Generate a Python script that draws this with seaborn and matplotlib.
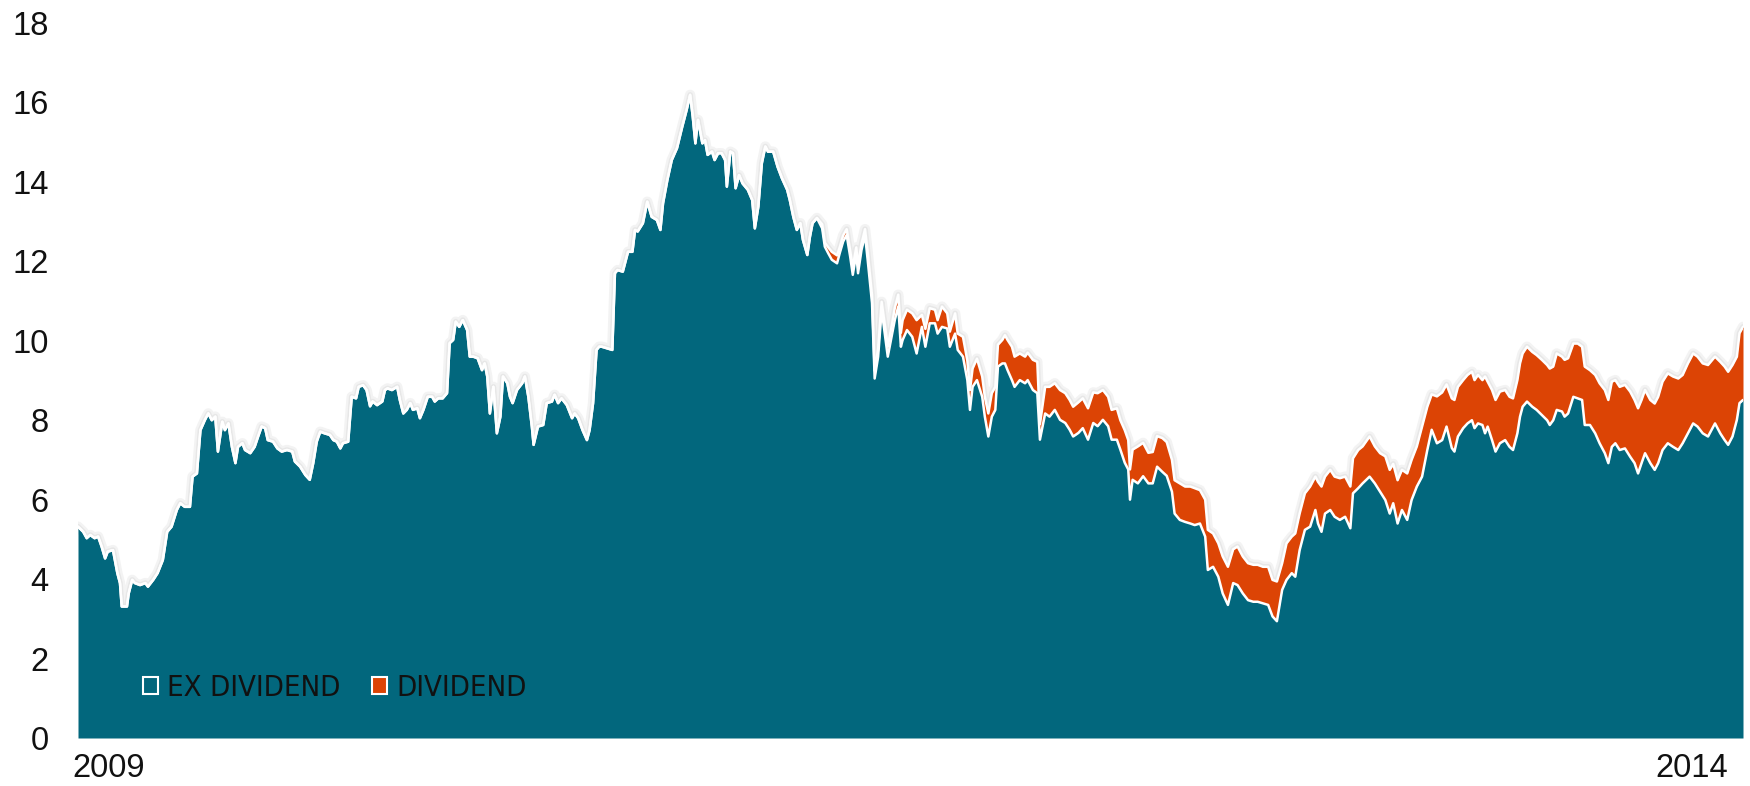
import numpy as np
import pandas as pd
import matplotlib
matplotlib.use("Agg")
import matplotlib.pyplot as plt
import matplotlib.transforms as mtransforms
from matplotlib import font_manager as fm
from matplotlib.patches import Patch
import seaborn as sns

# Share price, split into the ex-dividend price and the price including dividends paid.
START = "2008-12-05"

day_offset = [
    0, 6, 10, 14, 19, 23, 27, 31, 34, 40, 45, 48, 50, 56, 58, 62, 65, 71, 77, 80,
    86, 91, 97, 102, 107, 113, 117, 122, 128, 131, 136, 140, 145, 149, 153, 157, 160, 165, 168, 172,
    176, 180, 183, 188, 191, 197, 202, 206, 210, 214, 217, 223, 228, 233, 239, 245, 248, 254, 260, 265,
    269, 273, 277, 282, 288, 292, 296, 300, 303, 309, 313, 318, 321, 326, 330, 334,
    337, 342, 348, 351, 354, 359, 365, 368, 372, 376, 380, 383, 388, 391, 395, 400, 405, 408, 412, 417,
    422, 425, 429, 432, 436, 440, 445, 448, 452, 457, 462, 465, 468, 471, 475, 479, 483, 486, 491, 494,
    497, 502, 508, 511, 515, 519, 521, 526, 532, 536, 542, 545, 549, 553, 559, 565, 568, 572, 577, 582,
    585, 589, 593, 596,
    599, 605, 611, 614, 617, 623, 629, 634, 637, 640, 646, 651, 656, 662, 666, 669, 674, 679, 685, 691,
    696, 700, 703, 706, 709, 714, 717, 720, 725, 728, 732, 736, 740, 742, 746, 749, 752, 756, 760, 766,
    771, 774, 778, 782, 786, 789, 795, 800, 805, 811, 814, 818, 822, 826, 829, 834, 837, 840, 845,
    851, 854, 858, 862, 868, 871, 875, 879, 883, 886, 890, 892, 896, 900, 903, 908, 911, 915, 919, 923,
    926, 931, 934, 938, 941,
    943, 948, 954, 959, 965, 969, 974, 980, 983, 988, 994, 997, 1003, 1006, 1012, 1017, 1020, 1023, 1028, 1034,
    1037, 1041, 1045, 1049, 1052, 1057, 1060, 1063, 1068, 1071, 1077, 1083, 1086, 1092, 1097, 1100, 1106, 1111, 1117, 1123,
    1129, 1134, 1138, 1144, 1149, 1155, 1161, 1166, 1172, 1178, 1182, 1188, 1192, 1197, 1201, 1203, 1206, 1212, 1218, 1224,
    1229, 1234, 1240, 1245,
    1251, 1254, 1260, 1266, 1272, 1277, 1283, 1289, 1292, 1298, 1304, 1309, 1315, 1321, 1326, 1332, 1338, 1344, 1349, 1355,
    1361, 1366, 1371, 1377, 1382, 1388, 1392, 1397, 1403, 1409, 1415, 1418, 1422, 1426, 1432, 1437, 1443, 1449, 1455, 1458,
    1464, 1469, 1477, 1483, 1489, 1495, 1500, 1504, 1509, 1514, 1520, 1525, 1531, 1537, 1543, 1548, 1554, 1560, 1565, 1571,
    1574, 1578, 1584, 1589, 1594, 1597, 1601, 1606, 1609, 1612, 1617, 1621, 1626, 1632, 1637, 1641, 1646, 1649, 1652, 1657,
    1663, 1668, 1674, 1680, 1683, 1687, 1691, 1697, 1700, 1704, 1710, 1715, 1720, 1723, 1729, 1735, 1740, 1746, 1750, 1754,
    1758, 1763, 1769, 1775, 1780, 1784, 1788, 1792, 1798, 1803, 1807, 1812, 1818, 1824, 1830, 1835, 1841, 1847, 1852, 1858,
    1864, 1872, 1878, 1883, 1887, 1892, 1897, 1900, 1904,
]

ex_dividend = [
    5.32, 5.19, 5.03, 5.11, 5.03, 5.07, 4.82, 4.52, 4.69, 4.73, 4.15, 3.90, 3.31, 3.31, 3.64, 3.98, 3.90, 3.85, 3.90, 3.81,
    3.98, 4.15, 4.48, 5.19, 5.32, 5.74, 5.91, 5.82, 5.82, 6.58, 6.66, 7.75, 8.00, 8.17, 8.00, 8.09, 7.21, 7.96, 7.75, 7.92,
    7.33, 6.92, 7.33, 7.42, 7.25, 7.17, 7.33, 7.59, 7.84, 7.80, 7.50, 7.46, 7.29, 7.21, 7.25, 7.21, 6.96, 6.83, 6.62, 6.50,
    6.92, 7.46, 7.71, 7.67, 7.63, 7.50, 7.46, 7.29, 7.42, 7.46, 8.59, 8.55, 8.84, 8.88, 8.76, 8.35,
    8.47, 8.38, 8.47, 8.76, 8.80, 8.76, 8.84, 8.51, 8.17, 8.26, 8.43, 8.26, 8.30, 8.05, 8.26, 8.59, 8.59, 8.47, 8.55, 8.55,
    8.68, 9.94, 10.02, 10.48, 10.35, 10.52, 10.27, 9.60, 9.60, 9.56, 9.26, 9.43, 9.10, 8.17, 8.84, 7.67, 8.09, 9.10, 8.93, 8.59,
    8.43, 8.76, 8.93, 9.10, 8.59, 7.84, 7.38, 7.84, 7.88, 8.43, 8.47, 8.64, 8.43, 8.55, 8.38, 8.05, 8.17, 8.05, 7.75, 7.50,
    7.75, 8.43, 9.77, 9.85,
    9.85, 9.81, 9.77, 11.70, 11.78, 11.74, 12.24, 12.24, 12.79, 12.75, 12.96, 13.50, 13.12, 13.04, 12.79, 13.46, 14.05, 14.55, 14.85, 15.39,
    15.81, 16.19, 15.64, 14.97, 15.56, 14.97, 15.05, 14.68, 14.76, 14.55, 14.72, 14.72, 14.55, 13.88, 14.76, 14.72, 13.84, 14.17, 13.96, 13.80,
    13.54, 12.83, 13.38, 14.47, 14.89, 14.76, 14.76, 14.38, 14.09, 13.80, 13.54, 13.12, 12.79, 12.96, 12.54, 12.16, 12.62, 12.96, 13.09,
    12.83, 12.37, 12.20, 12.04, 11.95, 12.20, 12.50, 12.66, 12.12, 11.66, 12.20, 11.70, 12.29, 12.66, 12.04, 10.95, 9.05, 9.60, 10.78, 10.10,
    9.60, 10.18, 10.52, 10.86, 9.85,
    10.02, 10.27, 10.10, 9.68, 10.35, 9.85, 10.44, 10.44, 10.18, 10.35, 10.31, 9.85, 10.18, 9.77, 9.60, 9.01, 8.26, 8.84, 9.01, 8.59,
    8.09, 7.59, 8.09, 8.26, 9.35, 9.43, 9.43, 9.26, 9.01, 8.84, 9.01, 8.93, 9.01, 8.76, 8.68, 7.51, 8.17, 8.09, 8.26, 8.01,
    7.93, 7.76, 7.59, 7.68, 7.80, 7.51, 7.93, 7.85, 8.01, 7.85, 7.51, 7.51, 7.26, 6.93, 6.76, 6.00, 6.50, 6.41, 6.59, 6.41,
    6.41, 6.83, 6.70, 6.60,
    6.20, 5.65, 5.49, 5.44, 5.40, 5.36, 5.40, 5.07, 4.23, 4.31, 4.06, 3.64, 3.35, 3.90, 3.85, 3.64, 3.47, 3.43, 3.43, 3.39,
    3.35, 3.06, 2.94, 3.73, 3.98, 4.15, 4.06, 4.73, 5.24, 5.32, 5.74, 5.40, 5.19, 5.65, 5.74, 5.57, 5.49, 5.57, 5.28, 6.16,
    6.29, 6.41, 6.58, 6.41, 6.20, 5.99, 5.65, 5.91, 5.40, 5.74, 5.49, 5.99, 6.33, 6.58, 7.25, 7.76, 7.42, 7.50, 7.84, 7.30,
    7.21, 7.59, 7.80, 7.92, 8.00, 7.80, 7.92, 7.88, 7.67, 7.84, 7.50, 7.21, 7.42, 7.50, 7.33, 7.25, 7.67, 8.09, 8.34, 8.47,
    8.34, 8.26, 8.13, 8.00, 7.88, 8.00, 8.26, 8.22, 8.09, 8.17, 8.59, 8.55, 8.51, 7.88, 7.88, 7.67, 7.42, 7.17, 6.92, 7.33,
    7.42, 7.25, 7.29, 7.08, 6.92, 6.66, 6.92, 7.17, 6.92, 6.75, 6.92, 7.25, 7.42, 7.33, 7.25, 7.42, 7.67, 7.92, 7.84, 7.67,
    7.59, 7.92, 7.67, 7.50, 7.38, 7.59, 8.01, 8.43, 8.51,
]

with_dividend = [
    5.32, 5.19, 5.03, 5.11, 5.03, 5.07, 4.82, 4.52, 4.69, 4.73, 4.15, 3.90, 3.31, 3.31, 3.64, 3.98, 3.90, 3.85, 3.90, 3.81,
    3.98, 4.15, 4.48, 5.19, 5.32, 5.74, 5.91, 5.82, 5.82, 6.58, 6.66, 7.75, 8.00, 8.17, 8.00, 8.09, 7.21, 7.96, 7.75, 7.92,
    7.33, 6.92, 7.33, 7.42, 7.25, 7.17, 7.33, 7.59, 7.84, 7.80, 7.50, 7.46, 7.29, 7.21, 7.25, 7.21, 6.96, 6.83, 6.62, 6.50,
    6.92, 7.46, 7.71, 7.67, 7.63, 7.50, 7.46, 7.29, 7.42, 7.46, 8.59, 8.55, 8.84, 8.88, 8.76, 8.35,
    8.47, 8.38, 8.47, 8.76, 8.80, 8.76, 8.84, 8.51, 8.17, 8.26, 8.43, 8.26, 8.30, 8.05, 8.26, 8.59, 8.59, 8.47, 8.55, 8.55,
    8.68, 9.94, 10.02, 10.48, 10.35, 10.52, 10.27, 9.60, 9.60, 9.56, 9.26, 9.43, 9.10, 8.17, 8.84, 7.67, 8.09, 9.10, 8.93, 8.59,
    8.43, 8.76, 8.93, 9.10, 8.59, 7.84, 7.38, 7.84, 7.88, 8.43, 8.47, 8.64, 8.43, 8.55, 8.38, 8.05, 8.17, 8.05, 7.75, 7.50,
    7.75, 8.43, 9.77, 9.85,
    9.85, 9.81, 9.77, 11.70, 11.78, 11.74, 12.24, 12.24, 12.79, 12.75, 12.96, 13.50, 13.12, 13.04, 12.79, 13.46, 14.05, 14.55, 14.85, 15.39,
    15.81, 16.19, 15.64, 14.97, 15.56, 14.97, 15.05, 14.68, 14.76, 14.55, 14.72, 14.72, 14.55, 13.88, 14.76, 14.72, 13.84, 14.17, 13.96, 13.80,
    13.54, 12.83, 13.38, 14.47, 14.89, 14.76, 14.76, 14.38, 14.09, 13.80, 13.54, 13.12, 12.79, 12.96, 12.54, 12.16, 12.62, 12.96, 13.09,
    12.93, 12.47, 12.35, 12.24, 12.15, 12.35, 12.65, 12.81, 12.27, 11.86, 12.35, 11.90, 12.44, 12.81, 12.24, 11.15, 9.25, 9.80, 10.98, 10.35,
    9.85, 10.43, 10.82, 11.16, 10.20,
    10.52, 10.78, 10.69, 10.52, 10.65, 10.30, 10.82, 10.78, 10.52, 10.86, 10.69, 10.23, 10.69, 10.18, 10.10, 9.50, 8.76, 9.30, 9.55, 9.10,
    8.59, 8.17, 8.68, 8.84, 9.90, 10.02, 10.14, 10.02, 9.85, 9.60, 9.68, 9.60, 9.70, 9.52, 9.47, 7.90, 8.84, 8.84, 8.93, 8.76,
    8.68, 8.51, 8.34, 8.45, 8.55, 8.30, 8.70, 8.68, 8.76, 8.59, 8.26, 8.30, 8.00, 7.75, 7.50, 6.76, 7.26, 7.34, 7.43, 7.18,
    7.20, 7.60, 7.55, 7.45,
    7.00, 6.49, 6.41, 6.33, 6.33, 6.29, 6.24, 6.00, 5.24, 5.15, 4.90, 4.57, 4.31, 4.75, 4.82, 4.57, 4.40, 4.36, 4.36, 4.31,
    4.31, 3.98, 3.94, 4.40, 4.90, 5.07, 5.15, 5.65, 6.16, 6.33, 6.58, 6.45, 6.33, 6.58, 6.75, 6.58, 6.54, 6.58, 6.33, 7.04,
    7.25, 7.34, 7.59, 7.34, 7.17, 7.09, 6.75, 6.90, 6.49, 6.75, 6.66, 7.00, 7.34, 7.84, 8.34, 8.65, 8.60, 8.70, 8.90, 8.55,
    8.51, 8.84, 9.01, 9.14, 9.22, 9.01, 9.14, 9.01, 9.10, 8.97, 8.76, 8.51, 8.72, 8.76, 8.59, 8.55, 9.01, 9.43, 9.68, 9.85,
    9.72, 9.64, 9.52, 9.39, 9.30, 9.35, 9.68, 9.60, 9.52, 9.56, 9.93, 9.93, 9.85, 9.35, 9.26, 9.14, 8.93, 8.76, 8.51, 8.97,
    9.01, 8.84, 8.89, 8.72, 8.51, 8.30, 8.51, 8.76, 8.51, 8.42, 8.59, 8.97, 9.18, 9.10, 9.05, 9.14, 9.43, 9.68, 9.60, 9.43,
    9.39, 9.60, 9.47, 9.35, 9.22, 9.39, 9.60, 10.19, 10.35,
]

series_labels = ["EX DIVIDEND", "DIVIDEND"]
year_ticks = ["2009-01-01", "2014-01-01"]
y_ticks = list(range(0, 19, 2))

TEAL = "#02677d"
ORANGE = "#dc4405"

df = pd.DataFrame({
    "date": pd.Timestamp(START) + pd.to_timedelta(day_offset, unit="D"),
    "ex_dividend": ex_dividend,
    "with_dividend": with_dividend,
})

sns.set_theme(style="white")
plt.rcParams["font.family"] = ["Liberation Sans", "DejaVu Sans"]

# a narrow face for the legend if one is installed
installed = fm.fontManager.ttflist
if any(f.name == "Liberation Sans Narrow" for f in installed):
    legend_prop = {"family": "Liberation Sans Narrow", "size": 23}
elif any(f.name == "DejaVu Sans" and f.stretch == "condensed" for f in installed):
    legend_prop = {"family": "DejaVu Sans", "stretch": "condensed", "size": 21}
else:
    legend_prop = {"family": "Liberation Sans", "size": 19.5}

fig = plt.figure(figsize=(17.5, 7.86), dpi=100)
ax = fig.add_axes([78 / 1750, 48 / 786, 1665 / 1750, 715 / 786])

# soft grey glow behind the upper edge of the stack
ax.plot(df["date"], df["with_dividend"], color="#f3f3f3", lw=7.5, zorder=1,
        solid_joinstyle="round", solid_capstyle="round")
ax.plot(df["date"], df["with_dividend"], color="#e7e7e7", lw=4, zorder=1,
        solid_joinstyle="round", solid_capstyle="round")

# stacked areas
ax.fill_between(df["date"], 0, df["ex_dividend"], color=TEAL, lw=0, zorder=2)
ax.fill_between(df["date"], df["ex_dividend"], df["with_dividend"], color=ORANGE, lw=0, zorder=2)

# white outlines on both boundaries
sns.lineplot(data=df, x="date", y="with_dividend", color="white", lw=1.8,
             estimator=None, ax=ax, zorder=3)
sns.lineplot(data=df, x="date", y="ex_dividend", color="white", lw=1.8,
             estimator=None, ax=ax, zorder=3)

ax.set_xlim(df["date"].iloc[0], df["date"].iloc[-1])
ax.set_ylim(0, 18)
ax.set_xlabel("")
ax.set_ylabel("")
for s in ax.spines.values():
    s.set_visible(False)

ax.set_yticks(y_ticks)
ax.set_yticklabels([str(v) for v in y_ticks])
ax.tick_params(axis="y", length=0, pad=21, labelsize=23.5, labelcolor="#111111")

xt = pd.to_datetime(year_ticks)
ax.set_xticks(xt)
ax.set_xticklabels([str(t.year) for t in xt])
ax.tick_params(axis="x", length=0, pad=11, labelsize=23.5, labelcolor="#111111")
ax.grid(False)

# nudge the two year labels slightly inward
xlabels = ax.get_xticklabels()
shifts = [7 / 100, -7 / 100]
for lab, dx in zip(xlabels, shifts):
    lab.set_transform(lab.get_transform() + mtransforms.ScaledTranslation(dx, 0, fig.dpi_scale_trans))

handles = [
    Patch(facecolor=TEAL, edgecolor="white", linewidth=1.5, label=series_labels[0]),
    Patch(facecolor=ORANGE, edgecolor="white", linewidth=1.5, label=series_labels[1]),
]
fs_px = legend_prop["size"] * 100 / 72
leg = ax.legend(handles=handles, loc="center left", bbox_to_anchor=(0.039, 0.07),
                ncol=2, frameon=False, borderaxespad=0, borderpad=0,
                handlelength=15.5 / fs_px, handleheight=15.5 / fs_px,
                handletextpad=9 / fs_px, columnspacing=31 / fs_px,
                prop=legend_prop)
for t in leg.get_texts():
    t.set_color("#111111")

fig.savefig("out.png", dpi=100, facecolor="white")
